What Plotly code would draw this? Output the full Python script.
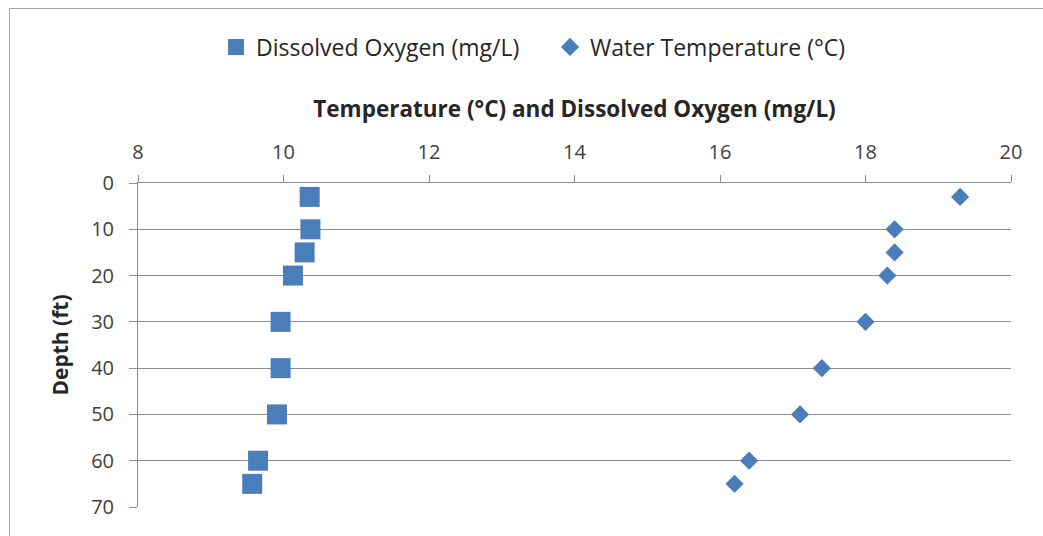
import plotly.graph_objects as go

depth_ft = [3, 10, 15, 20, 30, 40, 50, 60, 65]
dissolved_oxygen = [10.36, 10.37, 10.29, 10.13, 9.96, 9.96, 9.91, 9.65, 9.57]
water_temp = [19.3, 18.4, 18.4, 18.3, 18.0, 17.4, 17.1, 16.4, 16.2]
x_ticks = [8, 10, 12, 14, 16, 18, 20]
y_ticks = [0, 10, 20, 30, 40, 50, 60, 70]

BLUE = "#4A7EBB"
FONT = "'Open Sans', Lato, sans-serif"

fig = go.Figure()
fig.add_trace(go.Scatter(x=dissolved_oxygen, y=depth_ft, mode="markers",
                         name="Dissolved Oxygen (mg/L)",
                         marker=dict(symbol="square", size=20, color=BLUE)))
fig.add_trace(go.Scatter(x=water_temp, y=depth_ft, mode="markers",
                         name="Water Temperature (°C)",
                         marker=dict(symbol="diamond", size=14, color=BLUE)))

W, H = 1043, 536
L, R, T, B = 138, 1011, 183, 507


def px_x(px):
    return (px - L) / (R - L)


def px_y(py):
    return (B - py) / (B - T)


fig.update_layout(
    width=W, height=H,
    margin=dict(l=L, r=W - R, t=T, b=H - B),
    paper_bgcolor="white", plot_bgcolor="white",
    font=dict(family=FONT, color="#404040", size=20),
    showlegend=True,
    legend=dict(orientation="h", x=px_x(550), xanchor="center", y=px_y(47),
                yanchor="middle", font=dict(size=23, color="#262626"),
                itemsizing="trace", itemwidth=30,
                entrywidth=289, entrywidthmode="pixels"),
    xaxis=dict(side="top", range=[8, 20], tickvals=x_ticks,
               showgrid=False, zeroline=False,
               showline=True, linecolor="#8C8C8C", linewidth=1,
               ticks="outside", ticklen=7, tickcolor="#8C8C8C",
               ticklabelstandoff=8,
               tickfont=dict(size=20, color="#404040"),
               title=dict(text="<b>Temperature (°C) and Dissolved Oxygen (mg/L)</b>",
                          font=dict(size=22.5, color="#262626"), standoff=14)),
    yaxis=dict(range=[70, 0], tickvals=y_ticks,
               showgrid=True, gridcolor="#8C8C8C", gridwidth=1,
               zeroline=False,
               showline=True, linecolor="#8C8C8C", linewidth=1,
               ticks="outside", ticklen=8, tickcolor="#8C8C8C",
               ticklabelstandoff=11,
               tickfont=dict(size=20, color="#404040"),
               title=dict(text="<b>Depth (ft)</b>",
                          font=dict(size=21, color="#262626"), standoff=16)),
)

# outer chart border (left and top edges visible)
fig.add_shape(type="line", xref="paper", yref="paper",
              x0=px_x(9.5), x1=px_x(9.5), y0=px_y(8.5), y1=px_y(540),
              line=dict(color="#A6A6A6", width=1))
fig.add_shape(type="line", xref="paper", yref="paper",
              x0=px_x(9.5), x1=px_x(1045), y0=px_y(8.5), y1=px_y(8.5),
              line=dict(color="#A6A6A6", width=1))

fig.write_html("out.html", config={"displayModeBar": False},
               post_script="document.body.style.margin='0';document.body.style.overflow='hidden';")
